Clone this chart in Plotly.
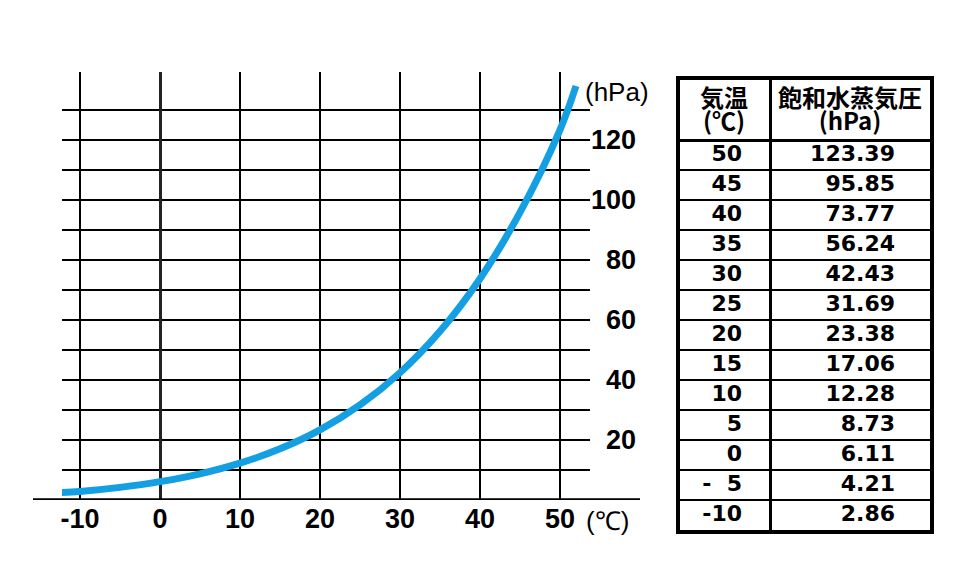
import plotly.graph_objects as go

# ---- data ----
temps = [50, 45, 40, 35, 30, 25, 20, 15, 10, 5, 0, -5, -10]
temp_labels = ["50", "45", "40", "35", "30", "25", "20", "15", "10", "5", "0", "-\u00a0\u00a05", "-10"]
pressures = [123.39, 95.85, 73.77, 56.24, 42.43, 31.69, 23.38, 17.06, 12.28, 8.73, 6.11, 4.21, 2.86]
pressure_labels = ["123.39", "95.85", "73.77", "56.24", "42.43", "31.69", "23.38",
                   "17.06", "12.28", "8.73", "6.11", "4.21", "2.86"]
curve_end_temps = [-12.5, 52]
curve_end_pressures = [2.5, 138]

x_ticks = [-10, 0, 10, 20, 30, 40, 50]
x_tick_labels = ["-10", "0", "10", "20", "30", "40", "50"]
y_grid = [10, 20, 30, 40, 50, 60, 70, 80, 90, 100, 110, 120, 130]
y_label_vals = [20, 40, 60, 80, 100, 120]

header_col1 = ["気温", "(℃)"]
header_col2 = ["飽和水蒸気圧", "(hPa)"]

# ---- build ----
pts = sorted(zip(temps + curve_end_temps, pressures + curve_end_pressures))
cx = [p[0] for p in pts]
cy = [p[1] for p in pts]

W, H = 962, 565
NB = "\u00a0"


def ylab(v):
    if v in y_label_vals:
        s = str(v)
        return NB * (2 * (3 - len(s))) + s
    return ""


fig = go.Figure()
fig.add_trace(go.Scatter(
    x=cx, y=cy, mode="lines", line=dict(color="#139fe2", width=7, shape="spline", smoothing=1),
    hoverinfo="skip", showlegend=False, xaxis="x", yaxis="y"))

# ---- table drawn on its own axes: columns in px units (divider at 0), rows in row units ----
n = len(temps)
row_centers = [i + 0.52 for i in range(n)]
cell_font = dict(family="DejaVu Sans", size=22, color="black")
fig.add_trace(go.Scatter(
    x=[-28] * n, y=row_centers, text=["<b>" + t + "</b>" for t in temp_labels],
    mode="text", textposition="middle left", textfont=cell_font, cliponaxis=False,
    hoverinfo="skip", showlegend=False, xaxis="x2", yaxis="y2"))
fig.add_trace(go.Scatter(
    x=[125] * n, y=row_centers, text=["<b>" + p + "</b>" for p in pressure_labels],
    mode="text", textposition="middle left", textfont=cell_font, cliponaxis=False,
    hoverinfo="skip", showlegend=False, xaxis="x2", yaxis="y2"))
head_font = dict(family="Noto Sans CJK JP", size=24, color="black")
fig.add_trace(go.Scatter(
    x=[-46, -46, 80, 80], y=[-1.3, -0.53, -1.3, -0.53],
    text=["<b>" + s + "</b>" for s in header_col1 + header_col2],
    mode="text", textposition="middle center", textfont=head_font, cliponaxis=False,
    hoverinfo="skip", showlegend=False, xaxis="x2", yaxis="y2"))

tickfont = dict(family="Liberation Sans", size=27, color="black", weight="bold")

fig.update_layout(
    width=W, height=H, margin=dict(l=0, r=0, t=0, b=0),
    paper_bgcolor="white", plot_bgcolor="white",
    xaxis=dict(domain=[62 / W, 590 / W], range=[-12.25, 53.75], tickvals=x_ticks, ticktext=x_tick_labels,
               showgrid=True, gridcolor="black", gridwidth=1.5, zeroline=True, zerolinecolor="#222",
               zerolinewidth=3, ticks="", tickfont=tickfont, showline=False, automargin=False,
               fixedrange=True),
    yaxis=dict(domain=[65 / H, 493 / H], range=[0, 428 / 3], side="right", tickvals=y_grid,
               ticktext=[ylab(v) for v in y_grid], showgrid=True, gridcolor="black", gridwidth=1.5,
               zeroline=False, ticks="", tickfont=tickfont, showline=False, automargin=False,
               fixedrange=True),
    xaxis2=dict(domain=[680 / W, 930 / W], range=[-90, 160], anchor="y2", showgrid=False,
                zeroline=True, zerolinecolor="black", zerolinewidth=3, showticklabels=False, ticks="",
                showline=True, mirror=True, linecolor="black", linewidth=3.5, automargin=False,
                fixedrange=True),
    yaxis2=dict(domain=[35 / H, 485 / H], range=[n, -2], anchor="x2", tickvals=list(range(1, n)),
                showgrid=True, gridcolor="black", gridwidth=2, zeroline=True, zerolinecolor="black",
                zerolinewidth=3, showticklabels=False, ticks="", showline=True, mirror=True,
                linecolor="black", linewidth=3.5, automargin=False, fixedrange=True),
    shapes=[
        dict(type="line", xref="paper", yref="y", x0=33 / W, x1=640 / W, y0=0, y1=0,
             line=dict(color="black", width=3.5), layer="above"),
    ],
    annotations=[
        dict(text="(hPa)", xref="paper", yref="paper", x=583 / W, y=1 - 92 / H, xanchor="left",
             yanchor="middle", showarrow=False, font=dict(family="Liberation Sans", size=26, color="black")),
        dict(text="(℃)", xref="paper", yref="paper", x=584 / W, y=1 - 521 / H, xanchor="left",
             yanchor="middle", showarrow=False, font=dict(family="Liberation Sans", size=26, color="black")),
    ],
)

fig.write_html("out.html", config={"displayModeBar": False})
